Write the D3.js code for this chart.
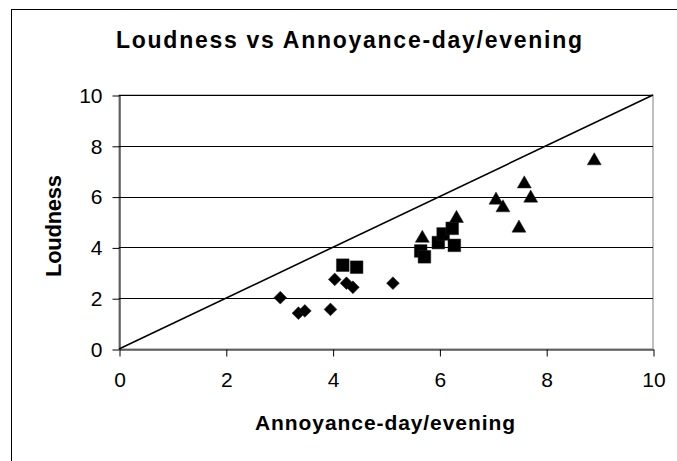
<!DOCTYPE html>
<html>
<head>
<meta charset="UTF-8">
<script src="https://d3js.org/d3.v7.min.js"></script>
<style>
  body { margin: 0; background: #fff; }
  svg text { font-family: "Liberation Sans", Arial, sans-serif; fill: #000; }
</style>
</head>
<body>
<svg></svg>
<script>
// values
var diamondX = [3.02, 3.36, 3.48, 3.96, 4.04, 4.26, 4.38, 5.13];
var diamondY = [2.02, 1.41, 1.50, 1.56, 2.74, 2.59, 2.43, 2.59];
var squareX = [4.19, 4.45, 5.65, 5.72, 5.98, 6.07, 6.24, 6.28];
var squareY = [3.30, 3.22, 3.86, 3.63, 4.19, 4.53, 4.75, 4.08];
var triangleX = [5.68, 6.32, 7.06, 7.19, 7.49, 7.59, 7.71, 8.90];
var triangleY = [4.36, 5.14, 5.86, 5.56, 4.76, 6.50, 5.94, 7.41];
var xTicks = [0, 2, 4, 6, 8, 10];
var yTicks = [0, 2, 4, 6, 8, 10];
var lineX = [0, 10];
var lineY = [0, 10];

var width = 677, height = 461;
var svg = d3.select("svg").attr("width", width).attr("height", height);

var x = d3.scaleLinear().domain([0, 10]).range([119, 653]);
var y = d3.scaleLinear().domain([0, 10]).range([349, 95]);

// chart border
svg.append("rect")
  .attr("x", 11.5).attr("y", 9.5)
  .attr("width", 670).attr("height", 460)
  .attr("fill", "none").attr("stroke", "#000");

// plot area border
svg.append("rect")
  .attr("x", x(0)).attr("y", y(10))
  .attr("width", x(10) - x(0)).attr("height", y(0) - y(10))
  .attr("fill", "none").attr("stroke", "#808080");

// gridlines
svg.append("g").selectAll("line")
  .data(yTicks.slice(1))
  .enter().append("line")
  .attr("x1", x(0)).attr("x2", x(10))
  .attr("y1", d => Math.round(y(d)) + 0.5).attr("y2", d => Math.round(y(d)) + 0.5)
  .attr("stroke", "#000");

var yAxis = svg.append("g")
  .attr("transform", "translate(" + (x(0) + 0.5) + ",0.5)")
  .call(d3.axisLeft(y).tickValues(yTicks).tickSize(7).tickPadding(10).tickSizeOuter(0));
var xAxis = svg.append("g")
  .attr("transform", "translate(0.5," + (y(0) + 0.5) + ")")
  .call(d3.axisBottom(x).tickValues(xTicks).tickSize(7).tickPadding(16).tickSizeOuter(0));
[yAxis, xAxis].forEach(function(a) {
  a.selectAll("text").style("font-size", "21px").attr("fill", "#000");
  a.selectAll("line, path").attr("stroke", "#000");
});

// diagonal line
svg.append("line")
  .attr("x1", x(lineX[0])).attr("y1", y(lineY[0]))
  .attr("x2", x(lineX[1])).attr("y2", y(lineY[1]))
  .attr("stroke", "#000").attr("stroke-width", 1.6);

// markers
function drawSeries(xs, ys, type, size, rot) {
  svg.append("g").selectAll("path")
    .data(xs.map((v, i) => [v, ys[i]]))
    .enter().append("path")
    .attr("d", d3.symbol().type(type).size(size))
    .attr("transform", d => "translate(" + x(d[0]) + "," + y(d[1]) + ") rotate(" + rot + ")")
    .attr("fill", "#000")
    .attr("stroke", "#222").attr("stroke-width", 0.5);
}
drawSeries(diamondX, diamondY, d3.symbolSquare, 82, 45);
drawSeries(squareX, squareY, d3.symbolSquare, 160, 0);
drawSeries(triangleX, triangleY, d3.symbolTriangle, 85, 0);

// titles
svg.append("text")
  .attr("x", 349).attr("y", 48)
  .attr("text-anchor", "middle")
  .attr("textLength", 466).attr("lengthAdjust", "spacing")
  .style("font-size", "23px").style("font-weight", "bold")
  .text("Loudness vs Annoyance-day/evening");

svg.append("text")
  .attr("x", 385).attr("y", 430)
  .attr("text-anchor", "middle")
  .attr("textLength", 260).attr("lengthAdjust", "spacing")
  .style("font-size", "21px").style("font-weight", "bold")
  .text("Annoyance-day/evening");

svg.append("text")
  .attr("transform", "translate(61,226) rotate(-90)")
  .attr("text-anchor", "middle")
  .attr("textLength", 102).attr("lengthAdjust", "spacing")
  .style("font-size", "22px").style("font-weight", "bold")
  .text("Loudness");
</script>
</body>
</html>
